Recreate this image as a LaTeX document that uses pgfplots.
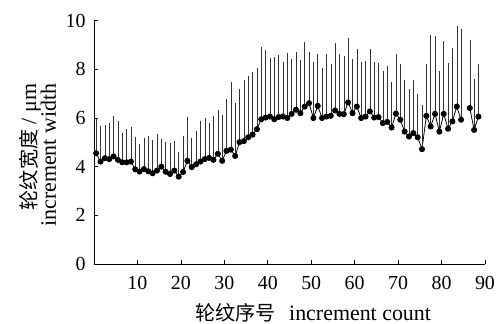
\documentclass[border=0pt]{standalone}
\usepackage{pgfplots}
\pgfplotsset{compat=1.18}
\usepackage{pgfplotstable}
\usepackage{fontspec}
\setmainfont{Liberation Serif}
\newfontfamily\cjk{Noto Sans CJK SC}[Scale=0.92]
\pgfplotstableread{
x y e
0.5 4.55 1.40
1.5 4.21 1.41
2.5 4.35 1.30
3.5 4.31 1.45
4.5 4.42 1.62
5.5 4.28 1.53
6.5 4.18 1.17
7.5 4.18 1.31
8.5 4.21 1.37
9.5 3.89 1.28
10.5 3.80 1.06
11.5 3.90 1.23
12.5 3.81 1.40
13.5 3.73 1.30
14.5 3.84 1.47
15.5 4.00 1.10
16.5 3.79 1.18
17.5 3.70 1.22
18.5 3.84 1.15
19.5 3.59 0.96
20.5 3.78 1.43
21.5 4.24 1.76
22.5 3.98 1.15
23.5 4.10 1.30
24.5 4.21 1.62
25.5 4.31 1.62
26.5 4.36 1.39
27.5 4.28 1.76
28.5 4.53 1.74
29.5 4.24 1.85
30.5 4.65 2.08
31.5 4.70 2.73
32.5 4.44 2.14
33.5 5.01 2.12
34.5 5.05 2.45
35.5 5.21 2.47
36.5 5.32 2.53
37.5 5.54 2.47
38.5 5.95 2.90
39.5 6.02 2.73
40.5 6.06 2.34
41.5 5.95 2.49
42.5 6.04 2.49
43.5 6.06 2.20
44.5 6.00 2.60
45.5 6.17 2.20
46.5 6.34 2.30
47.5 6.20 2.13
48.5 6.47 2.61
49.5 6.61 2.03
50.5 6.00 2.26
51.5 6.50 2.08
52.5 6.00 2.01
53.5 6.06 2.50
54.5 6.09 2.06
55.5 6.31 2.70
56.5 6.17 2.39
57.5 6.16 2.34
58.5 6.64 2.61
59.5 6.20 2.17
60.5 6.47 2.31
61.5 6.00 2.26
62.5 6.06 2.23
63.5 6.27 2.51
64.5 6.02 2.21
65.5 6.04 2.15
66.5 5.79 2.08
67.5 5.84 2.25
68.5 5.61 1.81
69.5 6.18 2.38
70.5 5.93 2.22
71.5 5.44 2.06
72.5 5.24 1.89
73.5 5.38 2.12
74.5 5.21 1.74
75.5 4.72 1.78
76.5 6.09 2.06
77.5 5.65 3.70
78.5 6.17 3.13
79.5 5.44 2.43
80.5 6.17 2.94
81.5 5.56 2.66
82.5 5.86 2.95
83.5 6.47 3.25
84.5 5.93 3.67
85.5 nan nan
86.5 6.41 2.74
87.5 5.51 2.03
88.5 6.06 2.09
}\datatable
\begin{document}
\begin{tikzpicture}
\useasboundingbox (-94bp,-60bp) rectangle (405bp,264bp);
\begin{axis}[
  scale only axis, width=391bp, height=243.3bp,
  xmin=0, xmax=90, ymin=0, ymax=10,
  axis lines*=left,
  axis line style={line width=0.6pt, black},
  tick align=inside,
  major tick length=4bp,
  tick style={line width=0.6pt, black},
  xtick={10,20,...,90}, ytick={0,2,...,10},
  tick label style={font=\fontsize{20}{22}\selectfont},
  xticklabel style={yshift=-9bp},
  yticklabel style={xshift=-5bp},
  label style={font=\fontsize{22}{20}\selectfont},
  /pgf/number format/assume math mode=true,
  xlabel={{\cjk 轮纹序号}\hspace{0.6em}increment count},
  xlabel style={at={(axis description cs:0.5606,-0.201)}, anchor=center},
  ylabel={{\cjk 轮纹宽度}\ /\ μm\\increment width},
  ylabel style={at={(axis description cs:-0.1445,0.447)}, anchor=center, align=right},
  clip=false,
]
\addplot[black, line width=0.8pt, mark=*, mark size=2.6bp, unbounded coords=jump,
  error bars/.cd, y dir=plus, y explicit,
  error bar style={line width=0.5pt, black!80},
  error mark options={mark size=1.3bp, line width=0.5pt, black!80}]
  table[x=x, y=y, y error=e] {\datatable};
\end{axis}
\end{tikzpicture}
\end{document}
